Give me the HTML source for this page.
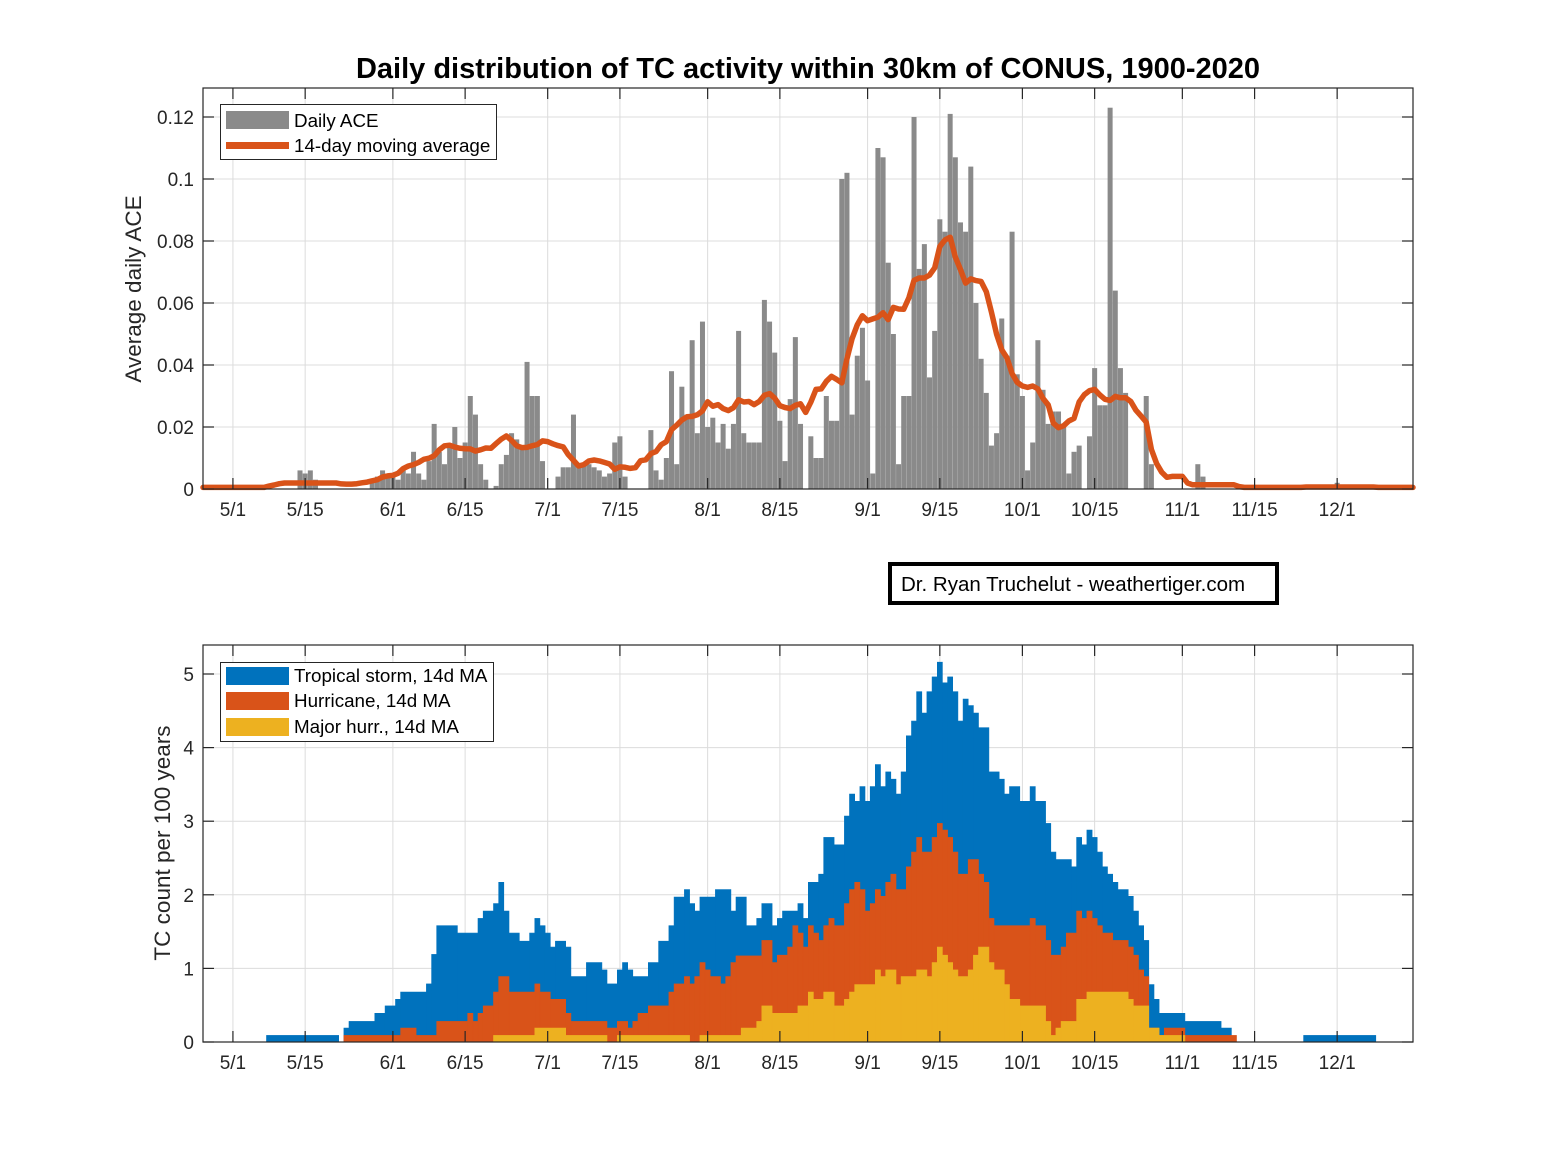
<!DOCTYPE html>
<html><head><meta charset="utf-8"><style>
html,body{margin:0;padding:0;background:#fff;}
svg{display:block;font-family:"Liberation Sans",Arial,sans-serif;}
</style></head><body>
<svg id="chart" width="1563" height="1172" viewBox="0 0 1563 1172" xmlns="http://www.w3.org/2000/svg">
<rect width="1563" height="1172" fill="#fff"/>
<text x="808" y="78" text-anchor="middle" font-size="29" font-weight="bold" fill="#000">Daily distribution of TC activity within 30km of CONUS, 1900-2020</text>
<g id="top"></g>
<g id="bot"></g>
<g>
<rect x="890" y="564" width="387" height="39" fill="#fff" stroke="#000" stroke-width="4"/>
<text x="901" y="591" font-size="20.5" fill="#000">Dr. Ryan Truchelut - weathertiger.com</text>
</g>
</svg>
<script>
// ---- data: day index 0 = May 1 ----
const tickDays = [0,14,31,45,61,75,92,106,123,137,153,167,184,198,214];
const tickLabels = ["5/1","5/15","6/1","6/15","7/1","7/15","8/1","8/15","9/1","9/15","10/1","10/15","11/1","11/15","12/1"];
const aceTicks = [0,0.02,0.04,0.06,0.08,0.1,0.12];
const aceTickLabels = ["0","0.02","0.04","0.06","0.08","0.1","0.12"];
const countTicks = [0,1,2,3,4,5];
// daily ACE as [day, value]
const dailyAce = [[13,.006],[14,.005],[15,.006],[16,.003],[27,.002],[28,.004],[29,.006],[30,.005],[31,.004],[32,.003],[33,.006],[34,.005],[35,.012],[36,.005],[37,.003],[38,.009],[39,.021],[40,.012],[41,.008],[42,.014],[43,.020],[44,.010],[45,.015],[46,.030],[47,.024],[48,.008],[49,.003],[51,.001],[52,.008],[53,.011],[54,.018],[55,.016],[56,.013],[57,.041],[58,.030],[59,.030],[60,.009],[63,.004],
[64,.007],[65,.007],[66,.024],[67,.008],[68,.008],[69,.008],[70,.007],[71,.006],[72,.004],[73,.005],[74,.015],[75,.017],[76,.004],[81,.019],[82,.006],[83,.003],[84,.010],[85,.038],[86,.008],[87,.033],[88,.024],[89,.048],[90,.018],[91,.054],[92,.020],[93,.023],[94,.015],[95,.021],[96,.013],[97,.021],[98,.051],[99,.018],[100,.015],[101,.015],[102,.015],[103,.061],[104,.054],[105,.044],[106,.022],[107,.009],[108,.029],[109,.049],[110,.021],[112,.017],[113,.010],[114,.010],[115,.030],[116,.022],[117,.022],
[118,.100],[119,.102],[120,.024],[121,.043],[122,.052],[123,.035],[124,.005],[125,.110],[126,.107],[127,.073],[128,.050],[129,.008],[130,.030],[131,.030],[132,.120],[133,.071],[134,.079],[135,.036],[136,.051],[137,.087],[138,.083],[139,.121],[140,.107],[141,.086],[142,.083],[143,.104],[144,.060],[145,.042],[146,.031],[147,.014],[148,.018],[149,.055],[150,.043],[151,.083],[152,.037],[153,.030],[154,.006],[155,.015],[156,.048],[157,.032],[158,.021],[159,.025],[160,.025],[161,.020],[162,.005],[163,.012],[164,.014],[166,.017],[167,.039],[168,.027],[169,.027],[170,.123],[171,.064],[172,.039],[173,.031],[177,.030],[178,.008],[187,.008],[188,.004],[214,.002]];
// 14-day MA counts per 100 yr, step change points [startDay, value]
const tsSteps = [[7,.09],[21,0],[22,.19],[23,.28],[28,.39],[30,.49],[32,.58],[33,.68],[38,.79],[39,1.19],[40,1.58],[44,1.48],[48,1.68],[49,1.78],[51,1.88],[52,2.17],[53,1.78],[54,1.48],[56,1.37],[58,1.48],[59,1.68],[60,1.58],[61,1.48],[62,1.29],[63,1.37],[65,1.29],[66,.89],[69,1.08],[72,.98],[73,.79],[75,.98],[76,1.08],[77,.98],[78,.89],[81,1.08],[83,1.37],[85,1.58],[86,1.97],[88,2.07],[89,1.88],[90,1.78],[91,1.97],[94,2.07],[97,1.78],[98,1.97],[100,1.58],[102,1.68],[103,1.88],[105,1.58],[106,1.68],[107,1.78],[110,1.88],[111,1.68],[112,2.17],[114,2.28],[115,2.78],[117,2.68],[119,3.07],[120,3.37],[121,3.27],[122,3.47],[123,3.27],[124,3.47],[125,3.77],[126,3.47],[127,3.67],[128,3.57],[129,3.37],[130,3.67],[131,4.16],[132,4.36],[133,4.76],[134,4.47],[135,4.76],[136,4.96],[137,5.16],[138,4.88],[139,4.96],[140,4.76],[141,4.36],[142,4.66],[143,4.57],[144,4.47],[145,4.27],[147,3.67],[149,3.57],[150,3.37],[151,3.47],[153,3.27],[155,3.47],[156,3.27],[158,2.97],[159,2.58],[160,2.48],[163,2.38],[164,2.78],[165,2.68],[166,2.88],[167,2.78],[168,2.58],[169,2.38],[170,2.28],[171,2.17],[172,2.07],[174,1.98],[175,1.78],[176,1.58],[177,1.38],[178,.78],[179,.58],[180,.39],[185,.28],[192,.19],[194,0],[208,.09],[222,0]];
const hurSteps = [[22,.09],[33,.19],[36,.09],[40,.28],[46,.39],[47,.28],[48,.39],[49,.49],[51,.68],[52,.89],[54,.68],[59,.79],[60,.68],[62,.58],[65,.39],[66,.28],[73,.19],[75,.28],[77,.19],[78,.28],[79,.39],[81,.49],[85,.68],[86,.79],[88,.89],[89,.79],[90,.89],[91,1.08],[92,.98],[93,.89],[95,.79],[96,.89],[97,1.08],[98,1.17],[103,1.38],[105,1.08],[106,1.18],[108,1.29],[109,1.58],[110,1.48],[111,1.29],[112,1.58],[113,1.48],[114,1.38],[115,1.58],[116,1.68],[117,1.58],[119,1.88],[120,2.07],[121,2.17],[122,2.07],[123,1.78],[124,1.88],[125,2.07],[126,1.98],[127,2.17],[128,2.28],[129,2.07],[131,2.38],[132,2.58],[133,2.78],[134,2.58],[136,2.78],[137,2.97],[138,2.88],[139,2.78],[140,2.58],[141,2.28],[143,2.48],[145,2.28],[146,2.17],[147,1.68],[148,1.58],[155,1.68],[156,1.58],[158,1.38],[159,1.18],[161,1.29],[162,1.48],[164,1.78],[165,1.68],[166,1.78],[167,1.68],[168,1.58],[169,1.48],[171,1.38],[174,1.29],[175,1.18],[176,.98],[177,.89],[178,.19],[180,.09],[181,.19],[185,.09],[195,0]];
const majSteps = [[51,.09],[59,.19],[65,.09],[73,0],[75,.09],[89,0],[91,.09],[99,.19],[102,.28],[103,.49],[105,.39],[110,.49],[112,.68],[113,.58],[115,.68],[117,.49],[119,.58],[120,.68],[121,.78],[125,.98],[126,.89],[127,.98],[129,.78],[130,.89],[133,.98],[135,.89],[136,1.08],[137,1.29],[138,1.18],[139,1.08],[140,.98],[141,.89],[143,.98],[144,1.18],[145,1.29],[147,1.08],[148,.98],[150,.78],[151,.58],[153,.49],[158,.28],[159,.09],[160,.19],[161,.28],[164,.58],[166,.68],[174,.58],[175,.49],[178,.19],[180,.09],[185,0]];

const NS="http://www.w3.org/2000/svg";
const L=203,R=1413,D0=-5.8,D1=228.7;
function X(d){return L+(d-D0)/(D1-D0)*(R-L);}
function mk(tag,attrs,parent){const e=document.createElementNS(NS,tag);for(const k in attrs)e.setAttribute(k,attrs[k]);parent.appendChild(e);return e;}
const GRID="#dcdcdc",AX="#262626",TFS=19;

function axes(g,top,bot,yTicks,Y){
  mk('rect',{x:L,y:top,width:R-L,height:bot-top,fill:'#fff'},g);
  yTicks.forEach(v=>{mk('line',{x1:L,x2:R,y1:Y(v),y2:Y(v),stroke:GRID,'stroke-width':1},g);});
  tickDays.forEach(d=>{mk('line',{x1:X(d),x2:X(d),y1:top,y2:bot,stroke:GRID,'stroke-width':1},g);});
}
function axesFront(g,top,bot,yTicks,yLabels,Y,name){
  mk('rect',{x:L,y:top,width:R-L,height:bot-top,fill:'none',stroke:AX,'stroke-width':1.2},g);
  tickDays.forEach((d,i)=>{
    mk('line',{x1:X(d),x2:X(d),y1:bot,y2:bot-11,stroke:AX,'stroke-width':1.2},g);
    mk('line',{x1:X(d),x2:X(d),y1:top,y2:top+11,stroke:AX,'stroke-width':1.2},g);
    const t=mk('text',{x:X(d),y:bot+27,'text-anchor':'middle','font-size':TFS,fill:AX},g);
    t.textContent=tickLabels[i];
    
    
  });
  yTicks.forEach((v,i)=>{
    mk('line',{x1:L,x2:L+11,y1:Y(v),y2:Y(v),stroke:AX,'stroke-width':1.2},g);
    mk('line',{x1:R,x2:R-11,y1:Y(v),y2:Y(v),stroke:AX,'stroke-width':1.2},g);
    const t=mk('text',{x:L-9,y:Y(v)+7,'text-anchor':'end','font-size':TFS,fill:AX},g);
    t.textContent=yLabels[i];
    
    
  });
}

// ---------- top panel ----------
const gt=document.getElementById('top');


const YT=v=>489-v*3100;
axes(gt,88,489,aceTicks,YT);
const barW=(X(1)-X(0))*0.97;
dailyAce.forEach(([d,v])=>{
  if(v<=0)return;
  const b=mk('rect',{x:X(d)-barW/2,y:YT(v),width:barW,height:489-YT(v),fill:'#8a8a8a'},gt);
  
  
});
const aceByDay={};dailyAce.forEach(([d,v])=>aceByDay[d]=v);
let pts=[];
for(let d=-6;d<=229;d++){
  let s=0;for(let k=d-7;k<=d+6;k++)s+=(aceByDay[k]||0);
  let v=s/14+0.0005;
  pts.push(Math.max(L,Math.min(R,X(d))).toFixed(1)+','+YT(v).toFixed(1));
}
const ma=mk('polyline',{points:pts.join(' '),fill:'none',stroke:'#D95319','stroke-width':5.5,'stroke-linejoin':'round','stroke-linecap':'round'},gt);


axesFront(gt,88,489,aceTicks,aceTickLabels,YT,'ace');
const yt1=mk('text',{x:0,y:0,transform:'translate(141,289) rotate(-90)','text-anchor':'middle','font-size':22.5,fill:AX},gt);
yt1.textContent='Average daily ACE';


const lg=mk('g',{},gt);


mk('rect',{x:220.5,y:104.5,width:276,height:55,fill:'#fff',stroke:AX,'stroke-width':1},lg);
mk('rect',{x:226,y:111,width:63,height:18,fill:'#8a8a8a'},lg);
let lt=mk('text',{x:294,y:127,'font-size':18.8,fill:'#000'},lg);lt.textContent='Daily ACE';
mk('rect',{x:226,y:142,width:63,height:7,fill:'#D95319'},lg);
lt=mk('text',{x:294,y:152,'font-size':18.8,fill:'#000'},lg);lt.textContent='14-day moving average';

// ---------- bottom panel ----------
const gb=document.getElementById('bot');


const YB=v=>1042-v*73.6;
axes(gb,645,1042,countTicks,YB);
function stairPath(steps){
  let segs=[];
  for(let i=0;i<steps.length;i++){
    const [s,v]=steps[i];const e=i+1<steps.length?steps[i+1][0]:229;
    if(v>0)segs.push([s,e,v]);
  }
  let d='';
  segs.forEach(([s,e,v])=>{
    const x0=X(s-0.5),x1=X(e-0.5),y=YB(v);
    d+=`M${x0.toFixed(1)},1042V${y.toFixed(1)}H${x1.toFixed(1)}V1042Z`;
  });
  return d;
}
[[tsSteps,'#0072BD','tropical-storm-area'],[hurSteps,'#D95319','hurricane-area'],[majSteps,'#EDB120','major-hurricane-area']].forEach(([s,c,n])=>{
  const p=mk('path',{d:stairPath(s),fill:c,stroke:c,'stroke-width':0.6},gb);
  
  
});
axesFront(gb,645,1042,countTicks,countTicks.map(String),YB,'count');
const yt2=mk('text',{x:0,y:0,transform:'translate(170,843) rotate(-90)','text-anchor':'middle','font-size':22.5,fill:AX},gb);
yt2.textContent='TC count per 100 years';


const lb=mk('g',{},gb);


mk('rect',{x:220.5,y:662.5,width:273,height:79,fill:'#fff',stroke:AX,'stroke-width':1},lb);
[['#0072BD','Tropical storm, 14d MA',676],['#D95319','Hurricane, 14d MA',701],['#EDB120','Major hurr., 14d MA',727]].forEach(([c,t,y])=>{
  mk('rect',{x:226,y:y-9,width:63,height:18,fill:c},lb);
  const tx=mk('text',{x:294,y:y+6,'font-size':18.8,fill:'#000'},lb);tx.textContent=t;
});
</script>
</body></html>
